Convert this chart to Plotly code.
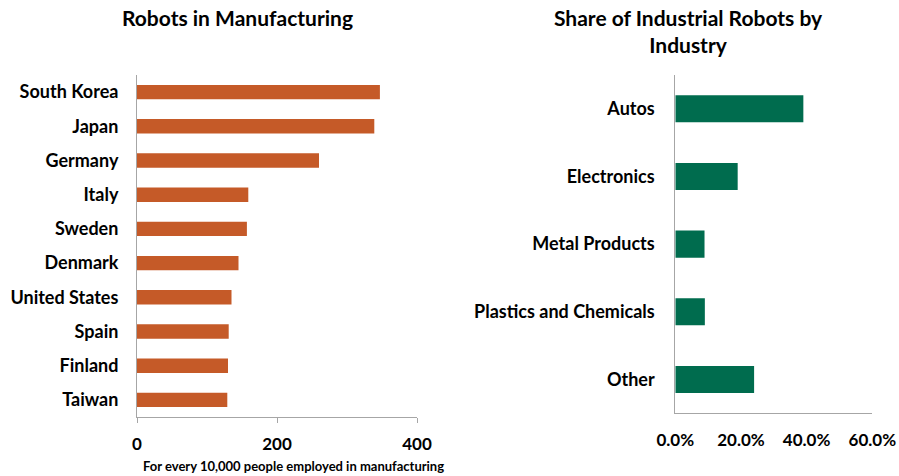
import plotly.graph_objects as go

countries = ["South Korea", "Japan", "Germany", "Italy", "Sweden", "Denmark",
             "United States", "Spain", "Finland", "Taiwan"]
robots_per_10k = [347, 339, 260, 159, 157, 145, 135, 131, 130, 129]

industries = ["Autos", "Electronics", "Metal Products", "Plastics and Chemicals", "Other"]
industry_share = [0.39, 0.19, 0.089, 0.09, 0.24]

left_ticks = [0, 200, 400]
right_ticks = [0, 0.2, 0.4, 0.6]

W, H = 899, 476
FONT = "Lato"
ORANGE = "#C55A28"
GREEN = "#006C4E"
AXIS = "#A6A6A6"

fig = go.Figure()
fig.add_trace(go.Bar(x=robots_per_10k, y=countries, orientation="h",
                     marker=dict(color=ORANGE, line=dict(width=0)), width=0.42,
                     xaxis="x", yaxis="y", hoverinfo="x+y"))
fig.add_trace(go.Bar(x=industry_share, y=industries, orientation="h",
                     marker=dict(color=GREEN, line=dict(width=0)), width=0.4,
                     xaxis="x2", yaxis="y2", hoverinfo="x+y"))

def px_x(p):
    return p / W

def px_y(p):
    return 1 - p / H

tickfont = dict(family=FONT, size=17, color="black")
catfont = dict(family=FONT, size=18, color="black")

fig.update_layout(
    width=W, height=H,
    margin=dict(l=0, r=0, t=0, b=0),
    paper_bgcolor="white", plot_bgcolor="white",
    showlegend=False,
    font=dict(family=FONT, color="black"),
    xaxis=dict(domain=[px_x(137), px_x(417)], anchor="y", range=[0, 400],
               tickvals=left_ticks, showgrid=False, zeroline=False,
               showline=True, linecolor=AXIS, linewidth=1,
               ticks="outside", ticklen=5, tickcolor=AXIS,
               tickfont=tickfont, ticklabelstandoff=7, automargin=False),
    yaxis=dict(domain=[px_y(417), px_y(75)], anchor="x", autorange="reversed",
               showgrid=False, zeroline=False, showline=True, linecolor=AXIS,
               linewidth=1, ticks="", tickfont=catfont, ticklabelstandoff=14,
               automargin=False),
    xaxis2=dict(domain=[px_x(675.3), px_x(872.3)], anchor="y2", range=[0, 0.6],
                tickvals=right_ticks, tickformat=".1%", showgrid=False,
                zeroline=False, showline=True, linecolor=AXIS, linewidth=1,
                ticks="", tickfont=tickfont, ticklabelstandoff=11, automargin=False),
    yaxis2=dict(domain=[px_y(413.3), px_y(75)], anchor="x2", autorange="reversed",
                showgrid=False, zeroline=False, showline=True, linecolor=AXIS,
                linewidth=1, ticks="", tickfont=catfont, ticklabelstandoff=16,
                automargin=False),
    annotations=[
        dict(text="<b>Robots in Manufacturing</b>", x=px_x(237), y=px_y(18),
             xref="paper", yref="paper", showarrow=False,
             xanchor="center", yanchor="middle",
             font=dict(family=FONT, size=21, color="black")),
        dict(text="<b>Share of Industrial Robots by<br>Industry</b>", x=px_x(688.5), y=px_y(31),
             xref="paper", yref="paper", showarrow=False,
             xanchor="center", yanchor="middle", align="center",
             font=dict(family=FONT, size=21, color="black")),
        dict(text="<b>For every 10,000 people employed in manufacturing</b>",
             x=px_x(293), y=px_y(466), xref="paper", yref="paper", showarrow=False,
             xanchor="center", yanchor="middle",
             font=dict(family=FONT, size=13, color="black")),
    ],
)
fig.update_xaxes(tickfont_weight="bold")
fig.update_yaxes(tickfont_weight="bold")

fig.write_html(
    "out.html",
    config={"displayModeBar": False},
    post_script="document.body.style.margin='0';document.body.style.overflow='hidden';",
)
